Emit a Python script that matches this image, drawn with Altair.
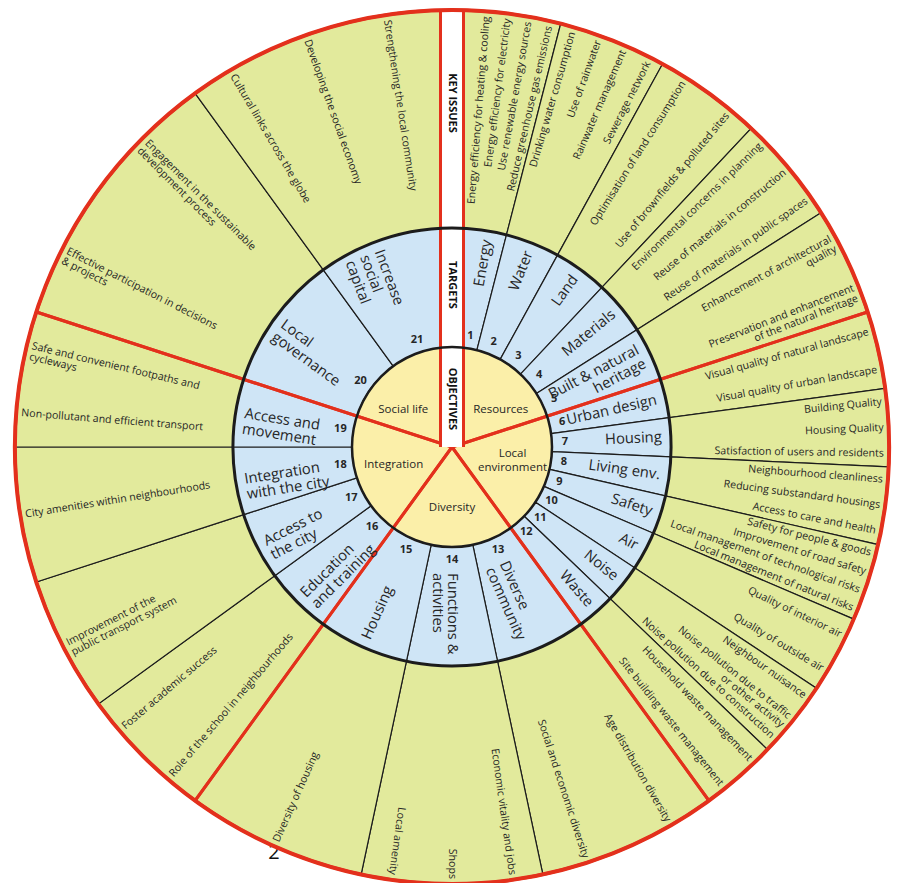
import math
import altair as alt
import pandas as pd

# ---------------- data ----------------
OBJECTIVES = ["Resources", "Local\nenvironment", "Diversity", "Integration", "Social life"]
OBJ_SPAN = [72, 72, 72, 72, 72]
OBJ_LABEL_THETA = [53, 97, 180, 253, 307]

TARGETS = [
    "Energy", "Water", "Land", "Materials", "Built & natural\nheritage",
    "Urban design", "Housing", "Living env.", "Safety", "Air", "Noise", "Waste",
    "Diverse\ncommunity", "Functions &\nactivities", "Housing",
    "Education\nand training", "Access to\nthe city", "Integration\nwith the city", "Access and\nmovement",
    "Local\ngovernance", "Increase\nsocial\ncapital",
]
TARGET_NUM = list(range(1, 22))
TARGET_SPAN = [14.4, 14.4, 14.4, 14.4, 14.4,
               10.3, 10.3, 10.3, 10.3, 10.3, 10.3, 10.2,
               24, 24, 24,
               18, 18, 18, 18,
               36, 36]

KEY_ISSUES = [
    ["Energy efficiency for heating & cooling", "Energy efficiency for electricity",
     "Use renewable energy sources", "Reduce greenhouse gas emissions"],
    ["Drinking water consumption", "Use of rainwater", "Rainwater management", "Sewerage network"],
    ["Optimisation of land consumption", "Use of brownfields & polluted sites"],
    ["Environmental concerns in planning", "Reuse of materials in construction",
     "Reuse of materials in public spaces"],
    ["Enhancement  of architectural\nquality", "Preservation and enhancement\nof the natural heritage"],
    ["Visual quality of natural landscape", "Visual quality of urban landscape"],
    ["Building Quality", "Housing Quality", "Satisfaction of users and residents"],
    ["Neighbourhood cleanliness", "Reducing substandard housings", "Access to care and health"],
    ["Safety for people & goods", "Improvement of road safety",
     "Local management of technological risks", "Local management of natural risks"],
    ["Quality of interior air", "Quality of outside air"],
    ["Neighbour nuisance", "Noise pollution due to traffic\nor other activity",
     "Noise pollution due to construction"],
    ["Household waste management", "Site building waste management"],
    ["Age distribution diversity", "Social and economic diversity"],
    ["Economic vitality and jobs", "Shops", "Local amenity"],
    ["Diversity of housing"],
    ["Role of the school in neighbourhoods", "Foster academic success"],
    ["Improvement of the\npublic transport system"],
    ["City amenities within neighbourhoods"],
    ["Non-pollutant and efficient transport", "Safe and convenient footpaths and\ncycleways"],
    ["Effective participation in decisions\n& projects", "Engagement in the sustainable\ndevelopment process"],
    ["Cultural links across the globe", "Developing the social economy", "Strengthening the local community"],
]
STRIP_LABELS = ["KEY ISSUES", "TARGETS", "OBJECTIVES"]

# ---------------- layout / style ----------------
CX, CY = 444, 439
R_OUT, R_MID, R_IN = 437, 219, 100
STRIP_HW = 11.5
R_ISSUE = R_OUT - 5
R_LBL = R_MID - 9
R_LBL_IN = R_IN + 26
R_NUM = R_IN + 13
R_OBJ = 61
STRIP_R = [344, 162, 48]

OUTER_FILL = "#E2EA9C"
BLUE_FILL = "#CFE5F6"
INNER_FILL = "#FBEFA9"
RED = "#E3301C"
LINE = "#1c1c1c"
TXT = "#262626"
FONT = "Open Sans"

TH = alt.Scale(type="linear", domain=[0, 360], range=[0, 2 * math.pi])
ROT = alt.Scale(type="linear", domain=[0, 360], range=[0, 360])
X = alt.value(CX)
Y = alt.value(CY)


def side_of(t):
    return "R" if 0 < t < 195 else "L"


def rot_of(t):
    return (t - 90) % 360 if side_of(t) == "R" else (t + 90) % 360


# ---------------- derived tables ----------------
obj_rows = []
acc = 0
for i, lab in enumerate(OBJECTIVES):
    obj_rows.append(dict(label=lab, t0=acc, t1=acc + OBJ_SPAN[i], tl=OBJ_LABEL_THETA[i]))
    acc += OBJ_SPAN[i]
obj_df = pd.DataFrame(obj_rows)

lab_pad = math.degrees(math.asin((STRIP_HW + 5) / 185))
num_pad = math.degrees(math.asin((STRIP_HW + 7) / R_NUM))
issue_pad = 3.2

t_rows, i_rows = [], []
pos = 0.0
n_t = len(TARGETS)
for k, (lab, span) in enumerate(zip(TARGETS, TARGET_SPAN)):
    t0, t1 = pos, pos + span
    pos = t1
    tc = (t0 + t1) / 2
    tl, tn = tc, tc
    a, b = t0, t1
    if k == 0:
        tl = (max(t0, lab_pad) + t1) / 2
        tn = max(tc, num_pad)
        a = t0 + issue_pad
    if k == n_t - 1:
        tl = (t0 + min(t1, 360 - lab_pad)) / 2
        tn = min(tc, 360 - num_pad)
        b = t1 - issue_pad
    anchor = "in" if 140 < tl < 195 else "out"
    # keep a long two-line label clear of its number
    if side_of(tl) == "R" and anchor == "out" and "\n" in lab:
        tl -= 2.4
    t_rows.append(dict(num=str(TARGET_NUM[k]), label=lab, t0=t0, t1=t1, tl=tl, tn=tn,
                       rot=rot_of(tl), side=side_of(tl), anchor=anchor))
    items = KEY_ISSUES[k]
    n = len(items)
    for j, it in enumerate(items):
        t = a + (b - a) * (j + 0.5) / n
        i_rows.append(dict(label=it, t=t, rot=rot_of(t), side=side_of(t)))
t_df = pd.DataFrame(t_rows)
i_df = pd.DataFrame(i_rows)
full_df = pd.DataFrame([dict(t0=0, t1=360)])
one_df = pd.DataFrame([dict(k=0)])


def arcs(df, inner, outer, **kw):
    return alt.Chart(df).mark_arc(innerRadius=inner, outerRadius=outer, **kw).encode(
        theta=alt.Theta("t0:Q", scale=TH, stack=False), theta2="t1:Q", x=X, y=Y)


layers = []

# stray slide number partly hidden behind the wheel
layers.append(alt.Chart(one_df).mark_text(text="2", fontSize=20, color="#111", font=FONT,
                                          align="center", baseline="alphabetic")
              .encode(x=alt.value(266), y=alt.value(851)))

# rings
layers.append(arcs(t_df, R_MID, R_OUT, fill=OUTER_FILL, stroke=LINE, strokeWidth=1.2))
layers.append(arcs(t_df, R_IN, R_MID, fill=BLUE_FILL, stroke=LINE, strokeWidth=1.2))
layers.append(arcs(obj_df, 0, R_IN, fill=INNER_FILL, strokeWidth=0))
layers.append(arcs(obj_df, 0, R_OUT, fill="white", fillOpacity=0, stroke=RED, strokeWidth=3))

# white strip at top
layers.append(alt.Chart(one_df).mark_rect(color="white").encode(
    x=alt.value(CX - STRIP_HW), x2=alt.value(CX + STRIP_HW),
    y=alt.value(CY - R_OUT + 1), y2=alt.value(CY)))
for sx in (CX - STRIP_HW, CX + STRIP_HW):
    layers.append(alt.Chart(one_df).mark_rule(color=RED, strokeWidth=3).encode(
        x=alt.value(sx), y=alt.value(CY - R_OUT + 1), y2=alt.value(CY)))

# circles
layers.append(arcs(full_df, 0, R_MID, fill="white", fillOpacity=0, stroke=LINE, strokeWidth=3))
layers.append(arcs(full_df, 0, R_IN, fill="white", fillOpacity=0, stroke=LINE, strokeWidth=2.5))
layers.append(arcs(full_df, 0, R_OUT, fill="white", fillOpacity=0, stroke=RED, strokeWidth=4))


def polar_text(df, flt, tfield, radius, align, size, **kw):
    ch = alt.Chart(df).transform_filter(flt)
    enc = dict(theta=alt.Theta(f"{tfield}:Q", scale=TH, stack=False), text="label:N", x=X, y=Y,
               angle=alt.Angle("rot:Q", scale=ROT))
    return ch.mark_text(radius=radius, align=align, baseline="middle", fontSize=size,
                        font=FONT, color=TXT, lineBreak="\n", **kw).encode(**enc)


# key issues
layers.append(polar_text(i_df, "datum.side == 'R'", "t", R_ISSUE, "right", 10.6, lineHeight=11))
layers.append(polar_text(i_df, "datum.side == 'L'", "t", R_ISSUE, "left", 10.6, lineHeight=11))

# target labels
layers.append(polar_text(t_df, "datum.side == 'R' && datum.anchor == 'out'", "tl", R_LBL, "right", 14.8,
                         lineHeight=15.5))
layers.append(polar_text(t_df, "datum.side == 'R' && datum.anchor == 'in'", "tl", R_LBL_IN, "left", 14.8,
                         lineHeight=15.5))
layers.append(polar_text(t_df, "datum.side == 'L'", "tl", R_LBL, "left", 14.8, lineHeight=15.5))

# target numbers
layers.append(alt.Chart(t_df).mark_text(radius=R_NUM, align="center", baseline="middle", fontSize=11,
                                        fontWeight="bold", font=FONT, color=TXT).encode(
    theta=alt.Theta("tn:Q", scale=TH, stack=False), text="num:N", x=X, y=Y))

# objective labels
layers.append(alt.Chart(obj_df).mark_text(radius=R_OBJ, align="center", baseline="middle", fontSize=11.5,
                                          font=FONT, color=TXT, lineBreak="\n", lineHeight=14).encode(
    theta=alt.Theta("tl:Q", scale=TH, stack=False), text="label:N", x=X, y=Y))

# strip labels
for lab, rr in zip(STRIP_LABELS, STRIP_R):
    sdf = pd.DataFrame([dict(label=lab, t=0)])
    layers.append(alt.Chart(sdf).mark_text(radius=rr, align="center", baseline="middle", fontSize=11,
                                           fontWeight="bold", font=FONT, color="#111", angle=90).encode(
        theta=alt.Theta("t:Q", scale=TH, stack=False), text="label:N", x=X, y=Y))

chart = alt.layer(*layers).properties(
    width=884, height=875, padding=0, autosize=alt.AutoSizeParams(type="none"),
    background="white",
).configure_view(stroke=None)

chart.save("out.html", embed_options={"renderer": "svg", "actions": False})
